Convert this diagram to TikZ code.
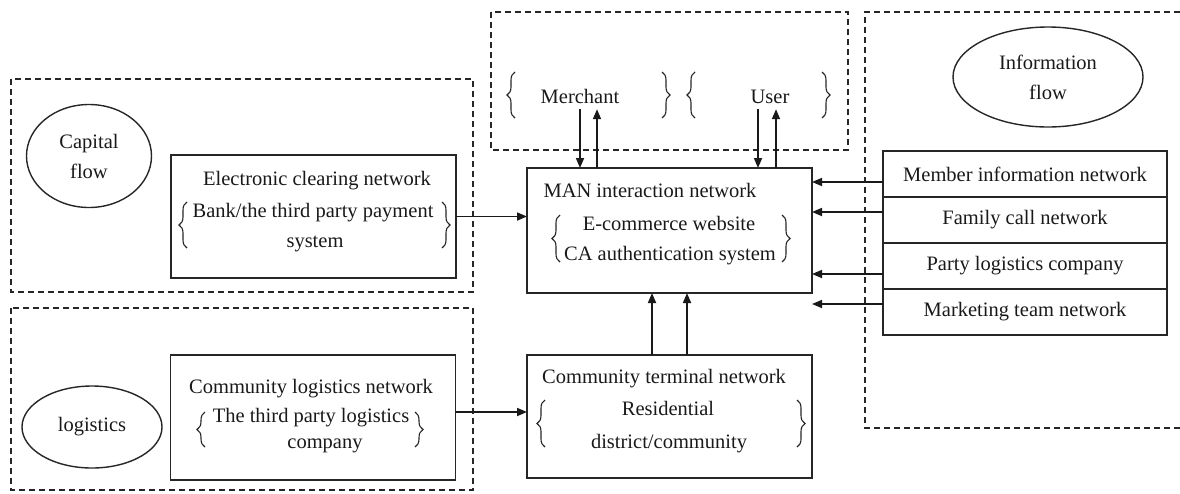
\documentclass[tikz,border=0pt]{standalone}
\usepackage{fontspec}
\setmainfont{Liberation Serif}
\usetikzlibrary{arrows.meta,shapes.geometric,decorations.pathreplacing}
\begin{document}
\begin{tikzpicture}[x=1pt,y=-1pt,
  every node/.style={font=\fontsize{20.5}{30}\selectfont, text=black!90},
  lbl/.style={inner sep=2pt, text height=14pt, text depth=4pt},
  box/.style={draw=black!85, line width=1.6pt, inner sep=0pt, outer sep=0pt, minimum width=285pt},
  row/.style={draw=black!85, line width=1.6pt, inner sep=0pt, outer sep=0pt, minimum width=284pt, minimum height=46pt},
  oval/.style={draw=black!85, line width=1.4pt, ellipse, inner sep=0pt, align=center},
  zone/.style={draw=black!85, line width=1.3pt, dash pattern=on 6pt off 4pt},
  arr/.style={draw=black!90, line width=1.7pt, -{Triangle[length=10pt,width=8pt]}},
  brc/.style={draw=black!85, line width=1.1pt, decorate, decoration={brace, amplitude=8pt}}
]
\useasboundingbox (0,0) rectangle (1180,493);

% dashed zones
\draw[zone] (491,12) rectangle (848,150);
\draw[zone] (11,79) rectangle (473,292);
\draw[zone] (11,308) rectangle (473,490);
\draw[zone] (1180,12) -- (865,12) -- (865,428) -- (1180,428);

% ellipses
\node[oval, minimum width=125pt, minimum height=103pt] (cap) at (89,156) {Capital\\flow};
\node[oval, minimum width=140pt, minimum height=82pt] (logi) at (92,427) {logistics};
\node[oval, minimum width=190pt, minimum height=100pt] (info) at (1048,77) {Information\\flow};

% main boxes
\node[box, minimum height=123pt] (ecn) at (313.5,216.5) {};
\node[box, minimum height=125pt] (man) at (669.5,230.5) {};
\node[box, minimum height=123pt] (ctn) at (669.5,416.5) {};
\node[box, minimum height=125pt] (cln) at (313,417.5) {};

% info rows
\node[row] (r1) at (1025,174) {Member information network};
\node[row] (r2) at (1025,220) {Family call network};
\node[row] (r3) at (1025,266) {Party logistics company};
\node[row] (r4) at (1025,312) {Marketing team network};

% texts
\node[lbl] (merch) at (580,98) {Merchant};
\node[lbl] (user) at (770,98) {User};

\node[lbl] (ecn1) at (317,180) {Electronic clearing network};
\node[lbl] (ecn2) at (313,212) {Bank/the third party payment};
\node[lbl] (ecn3) at (315,242) {system};

\node[lbl] (man1) at (650,192) {MAN interaction network};
\node[lbl] (man2) at (669,225) {E-commerce website};
\node[lbl] (man3) at (670,255) {CA authentication system};

\node[lbl] (ctn1) at (664,378) {Community terminal network};
\node[lbl] (ctn2) at (668,410) {Residential};
\node[lbl] (ctn3) at (669,443) {district/community};

\node[lbl] (cln1) at (311,388) {Community logistics network};
\node[lbl] (cln2) at (311,417) {The third party logistics};
\node[lbl] (cln3) at (325,443) {company};

% braces (left braces drawn upward, right braces downward)
\draw[brc] (515,118) -- (515,72);
\draw[brc] (662,72) -- (662,118);
\draw[brc] (695,118) -- (695,72);
\draw[brc] (822,72) -- (822,118);

\draw[brc] (187,248) -- (187,202);
\draw[brc] (442,202) -- (442,248);

\draw[brc] (560,262) -- (560,215);
\draw[brc] (782,215) -- (782,262);

\draw[brc] (205,447) -- (205,412);
\draw[brc] (415,412) -- (415,447);

\draw[brc] (545,447) -- (545,400);
\draw[brc] (797,400) -- (797,447);

% connectors
\draw[arr] (ecn.east) -- (ecn.east -| man.west);
\draw[arr] ([yshift=5.5pt]cln.east) -- ([yshift=5.5pt]cln.east -| ctn.west);
\draw[arr] ([xshift=-17.5pt]ctn.north) -- ([xshift=-17.5pt]man.south);
\draw[arr] ([xshift=17.5pt]ctn.north) -- ([xshift=17.5pt]man.south);

\draw[arr] (merch.south) -- (merch.south |- man.north);
\draw[arr] ([xshift=17pt]merch.south |- man.north) -- ([xshift=17pt]merch.south);
\draw[arr] ([xshift=-12pt]user.south) -- ([xshift=-12pt]user.south |- man.north);
\draw[arr] ([xshift=6pt]user.south |- man.north) -- ([xshift=6pt]user.south);

\draw[arr] ([yshift=-8pt]r1.west) -- ([yshift=-8pt]r1.west -| man.east);
\draw[arr] ([yshift=8pt]r2.west) -- ([yshift=8pt]r2.west -| man.east);
\draw[arr] ([yshift=-8pt]r3.west) -- ([yshift=-8pt]r3.west -| man.east);
\draw[arr] ([yshift=8pt]r4.west) -- ([yshift=8pt]r4.west -| man.east);
\end{tikzpicture}
\end{document}
